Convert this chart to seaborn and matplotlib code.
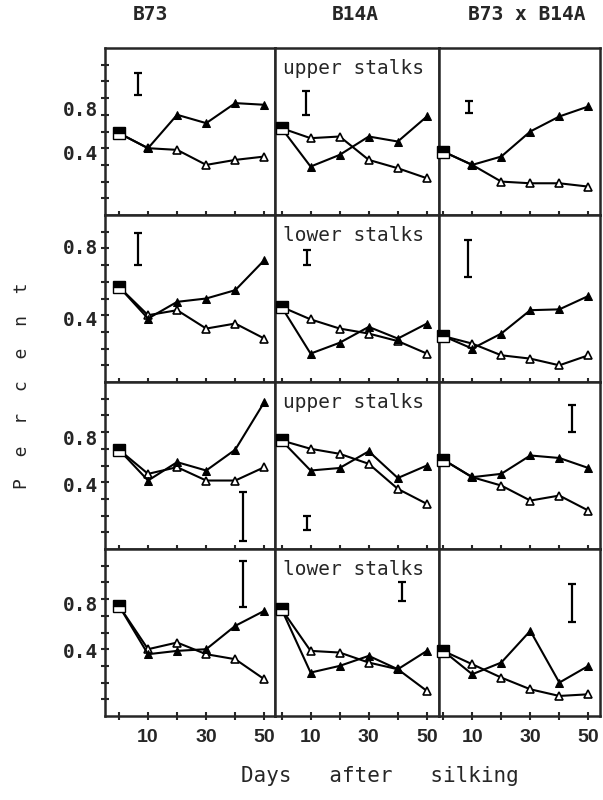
import matplotlib
matplotlib.use("Agg")
import matplotlib.pyplot as plt
import seaborn as sns

# days after silking
days = [0, 10, 20, 30, 40, 50]
columns = ["B73", "B14A", "B73 x B14A"]
panel_text = ["upper stalks", "lower stalks", "upper stalks", "lower stalks"]

# filled triangles, one list per genotype (B73, B14A, B73 x B14A)
filled_row1 = [[0.49, 0.40, 0.60, 0.55, 0.67, 0.66],
               [0.52, 0.29, 0.36, 0.47, 0.44, 0.59],
               [0.38, 0.30, 0.35, 0.50, 0.59, 0.65]]
filled_row2 = [[0.57, 0.38, 0.48, 0.50, 0.55, 0.73],
               [0.45, 0.17, 0.235, 0.33, 0.26, 0.35],
               [0.275, 0.20, 0.29, 0.43, 0.435, 0.515]]
filled_row3 = [[0.595, 0.41, 0.52, 0.47, 0.595, 0.88],
               [0.65, 0.47, 0.485, 0.585, 0.425, 0.50],
               [0.535, 0.43, 0.45, 0.56, 0.545, 0.485]]
filled_row4 = [[0.66, 0.37, 0.39, 0.40, 0.54, 0.63],
               [0.64, 0.26, 0.30, 0.36, 0.28, 0.39],
               [0.39, 0.25, 0.32, 0.51, 0.20, 0.30]]

# open triangles
open_row1 = [[0.49, 0.40, 0.39, 0.30, 0.33, 0.35],
             [0.52, 0.46, 0.47, 0.33, 0.28, 0.22],
             [0.38, 0.30, 0.20, 0.19, 0.19, 0.17]]
open_row2 = [[0.57, 0.40, 0.43, 0.32, 0.35, 0.26],
             [0.45, 0.375, 0.32, 0.29, 0.245, 0.17],
             [0.275, 0.23, 0.16, 0.14, 0.10, 0.16]]
open_row3 = [[0.595, 0.45, 0.49, 0.41, 0.41, 0.49],
             [0.65, 0.60, 0.57, 0.51, 0.36, 0.27],
             [0.535, 0.43, 0.38, 0.29, 0.32, 0.23]]
open_row4 = [[0.66, 0.40, 0.44, 0.37, 0.34, 0.22],
             [0.64, 0.39, 0.38, 0.32, 0.28, 0.15],
             [0.39, 0.31, 0.23, 0.16, 0.12, 0.13]]

# LSD bars: day position, low and high ends
err_day = [[6.5, 8.5, 8.9], [6.4, 8.6, 8.7], [42.7, 8.9, 44.4], [42.7, 41.6, 44.4]]
err_low = [[0.72, 0.60, 0.61], [0.70, 0.70, 0.63], [0.05, 0.115, 0.70], [0.65, 0.69, 0.56]]
err_high = [[0.85, 0.74, 0.68], [0.89, 0.79, 0.85], [0.34, 0.20, 0.86], [0.93, 0.805, 0.79]]

filled = [filled_row1, filled_row2, filled_row3, filled_row4]
opened = [open_row1, open_row2, open_row3, open_row4]

# where the printed "0.4" / "0.8" labels sit on each row (as pasted in the original)
ylab_04 = [0.377, 0.383, 0.387, 0.39]
ylab_08 = [0.64, 0.81, 0.667, 0.675]

sns.set_style("ticks")
plt.rcParams["font.family"] = ["DejaVu Sans Mono", "DejaVu Sans"]

W, H = 603, 800
fig = plt.figure(figsize=(6.03, 8.0), dpi=100)
gs = fig.add_gridspec(4, 3, left=105 / W, right=600 / W, top=1 - 48 / H, bottom=1 - 716 / H,
                      wspace=0, hspace=0, width_ratios=[170.7, 165.7, 162])
xlims = [(-4.8, 53.5), (-2.4, 54.2), (-1.4, 54.0)]

for r in range(4):
    for c in range(3):
        ax = fig.add_subplot(gs[r, c])
        f = filled[r][c]
        o = opened[r][c]
        sns.lineplot(x=days, y=o, ax=ax, color="black", linewidth=1.5, marker="^",
                     markersize=6, markerfacecolor="white", markeredgecolor="black",
                     markeredgewidth=1.2, markevery=[1, 2, 3, 4, 5])
        sns.lineplot(x=days, y=f, ax=ax, color="black", linewidth=1.5, marker="^",
                     markersize=6, markerfacecolor="black", markeredgecolor="black",
                     markevery=[1, 2, 3, 4, 5])
        # shared starting point
        ax.plot(days[0], f[0], marker="s", markersize=8, color="black", fillstyle="top",
                markerfacecoloralt="white", markeredgecolor="black", clip_on=False, zorder=5)
        # LSD bar
        lo, hi = err_low[r][c], err_high[r][c]
        ax.errorbar(err_day[r][c], (lo + hi) / 2, yerr=(hi - lo) / 2, color="black",
                    capsize=3, elinewidth=1.6, capthick=1.6)

        if c == 1:
            ax.text(0.48, 0.875, panel_text[r], transform=ax.transAxes, ha="center",
                    va="center", fontsize=14)

        ax.set_xlim(*xlims[c])
        ax.set_ylim(0, 1.0)
        for s in ax.spines.values():
            s.set_linewidth(1.8)

        ax.set_xticks(days)
        if r == 3:
            ax.set_xticklabels(["", "10", "", "30", "", "50"], fontsize=14,
                               family="Liberation Sans", fontweight="bold")
        else:
            ax.set_xticklabels([])
        ax.tick_params(axis="x", direction="inout", length=6, width=1.5, pad=6)

        if c == 0:
            ax.set_yticks([0.1, 0.2, 0.3, 0.4, 0.5, 0.6, 0.7, 0.8, 0.9], minor=True)
            ax.set_yticks([ylab_04[r], ylab_08[r]])
            ax.set_yticklabels(["0.4", "0.8"], fontsize=14, fontweight="bold")
            ax.tick_params(axis="y", which="major", length=0, pad=5)
            ax.tick_params(axis="y", which="minor", direction="inout", length=6, width=1.5)
        else:
            ax.set_yticks([])
        ax.set_xlabel("")
        ax.set_ylabel("")

# column headings
fig.text(150 / W, 1 - 14 / H, columns[0], ha="center", va="center", fontsize=14, fontweight="bold")
fig.text(355 / W, 1 - 14 / H, columns[1], ha="center", va="center", fontsize=14, fontweight="bold")
fig.text(527 / W, 1 - 14 / H, columns[2], ha="center", va="center", fontsize=14, fontweight="bold")

fig.text(22 / W, 1 - 386 / H, "P  e  r  c  e  n  t", rotation=90, ha="center", va="center",
         fontsize=13)
fig.text(380 / W, 1 - 776 / H, "Days   after   silking", ha="center", va="center", fontsize=15)

plt.savefig("out.png", dpi=100)
